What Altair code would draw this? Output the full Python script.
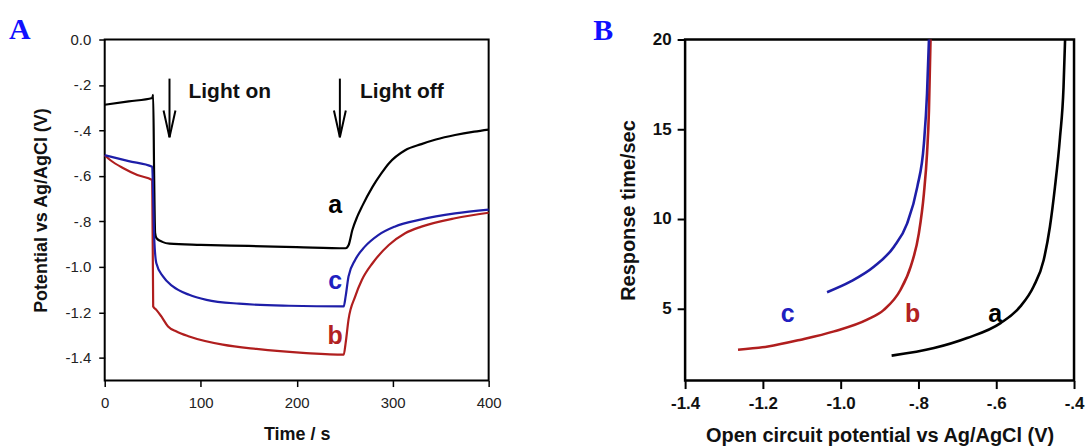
import altair as alt
import pandas as pd

# ---------------- Panel A data (Time / s vs Potential) ----------------
a_t = [0, 25, 49.5, 50.5, 51.5, 52.5, 54, 60, 67.5, 100, 150, 200, 251, 254, 258, 263, 268, 279, 288, 296, 313, 330, 345, 365, 385, 400]
a_v = [-0.287, -0.272, -0.257, -0.243, -0.60, -0.85, -0.874, -0.89, -0.898, -0.903, -0.908, -0.913, -0.918, -0.905, -0.838, -0.78, -0.735, -0.648, -0.59, -0.545, -0.487, -0.46, -0.44, -0.42, -0.405, -0.396]

c_t = [0, 25, 49.5, 50.5, 51.5, 53.8, 60.7, 71, 88, 106, 140, 192, 249, 251, 254, 261, 271, 285, 302, 330, 365, 400]
c_v = [-0.509, -0.535, -0.56, -0.70, -0.867, -0.984, -1.042, -1.086, -1.123, -1.145, -1.162, -1.171, -1.174, -1.13, -1.042, -0.969, -0.911, -0.86, -0.823, -0.791, -0.765, -0.748]

b_t = [0, 6, 20, 34, 49.5, 50.5, 53.8, 59, 66, 74.8, 88, 123, 158, 210, 249, 251, 254, 261, 268, 279, 296, 313, 330, 365, 400]
b_v = [-0.509, -0.531, -0.567, -0.596, -0.618, -1.174, -1.189, -1.218, -1.262, -1.284, -1.306, -1.342, -1.361, -1.379, -1.386, -1.335, -1.232, -1.13, -1.057, -0.984, -0.904, -0.852, -0.823, -0.786, -0.762]

A_y_ticks = [0.0, -0.2, -0.4, -0.6, -0.8, -1.0, -1.2, -1.4]
A_x_ticks = [0, 100, 200, 300, 400]

A_lbl_text = ["a", "c", "b"]
A_lbl_x = [240, 240, 240]
A_lbl_y = [-0.728, -1.064, -1.306]
A_lbl_col = ["#000000", "#2020c0", "#b22222"]

arrow_x = [67.5, 245]
arrow_top = [-0.172, -0.172]
arrow_tip = [-0.430, -0.430]
arrow_text = ["Light on", "Light off"]
arrow_text_x = [87.3, 266]
arrow_text_y = [-0.231, -0.231]

# ---------------- Panel B data (OCP vs response time) ----------------
Bb_x = [-1.264, -1.187, -1.102, -1.017, -0.932, -0.889, -0.846, -0.82, -0.799, -0.786, -0.778, -0.773, -0.769]
Bb_y = [2.72, 2.9, 3.28, 3.74, 4.39, 4.94, 6.06, 7.35, 9.2, 11.42, 13.64, 16.06, 20.0]

Bc_x = [-1.035, -0.974, -0.914, -0.863, -0.829, -0.803, -0.786, -0.778, -0.773]
Bc_y = [5.92, 6.52, 7.35, 8.46, 9.76, 11.79, 14.2, 16.98, 20.0]

Ba_x = [-0.869, -0.76, -0.675, -0.589, -0.538, -0.504, -0.478, -0.462, -0.449, -0.436, -0.427, -0.423]
Ba_y = [2.39, 2.81, 3.37, 4.2, 5.13, 6.24, 7.72, 9.57, 11.79, 14.57, 17.35, 20.0]

B_x_ticks = [-1.4, -1.2, -1.0, -0.8, -0.6, -0.4]
B_y_ticks = [5, 10, 15, 20]

B_lbl_text = ["c", "b", "a"]
B_lbl_x = [-1.136, -0.815, -0.603]
B_lbl_y = [4.7, 4.7, 4.7]
B_lbl_col = ["#2020c0", "#b22222", "#000000"]

series_colors = {"a": "#000000", "b": "#b01e1e", "c": "#1e1ea8"}

FONT = "Liberation Sans"
label_expr = "replace(replace(format(datum.value, '.1f'), '\u22120.', '-.'), '\u2212', '-')"


def long_df(pairs):
    rows = []
    for name, xs, ys in pairs:
        for i, (x, y) in enumerate(zip(xs, ys)):
            rows.append({"series": name, "x": x, "y": y, "i": i})
    return pd.DataFrame(rows)


dfA = long_df([("a", a_t, a_v), ("b", b_t, b_v), ("c", c_t, c_v)])
dfB = long_df([("a", Ba_x, Ba_y), ("b", Bb_x, Bb_y), ("c", Bc_x, Bc_y)])

colscale = alt.Scale(domain=list(series_colors.keys()), range=list(series_colors.values()))

# ---------- Panel A ----------
xA = alt.X("x:Q", scale=alt.Scale(domain=[0, 400], nice=False),
           axis=alt.Axis(values=A_x_ticks, title="Time / s", grid=False, domain=False,
                         tickSize=6, tickWidth=1.5, tickColor="black",
                         labelFont=FONT, labelFontSize=15, labelColor="#222", labelPadding=9,
                         titleFont=FONT, titleFontSize=18, titleFontWeight="bold", titleColor="#111",
                         titlePadding=14, minExtent=31, maxExtent=31, labelFlush=False))
yA = alt.Y("y:Q", scale=alt.Scale(domain=[-1.5, 0], nice=False),
           axis=alt.Axis(values=A_y_ticks, labelExpr=label_expr, title="Potential vs Ag/AgCl (V)",
                         grid=False, domain=False, tickSize=6, tickWidth=1.5, tickColor="black",
                         labelFont=FONT, labelFontSize=15, labelColor="#222", labelPadding=8,
                         titleFont=FONT, titleFontSize=18, titleFontWeight="bold", titleColor="#111",
                         titlePadding=14, minExtent=40, maxExtent=40))

linesA = alt.Chart(dfA).mark_line(strokeWidth=2.2, interpolate="monotone").encode(
    x=xA, y=yA,
    color=alt.Color("series:N", scale=colscale, legend=None),
    order="i:Q", detail="series:N")

lblA = alt.Chart(pd.DataFrame({"t": A_lbl_text, "x": A_lbl_x, "y": A_lbl_y, "c": A_lbl_col})).mark_text(
    font=FONT, fontSize=25, fontWeight="bold", align="center", baseline="middle").encode(
    x="x:Q", y="y:Q", text="t:N", color=alt.Color("c:N", scale=None))

arr_df = pd.DataFrame({"x": arrow_x, "top": arrow_top, "tip": arrow_tip})
shaft = alt.Chart(arr_df).mark_rule(strokeWidth=2, color="black").encode(x="x:Q", y="top:Q", y2="tip:Q")

head_rows = []
for k, (ax, tip) in enumerate(zip(arrow_x, arrow_tip)):
    head_rows += [{"k": k, "i": 0, "x": ax - 6.2, "y": tip + 0.118},
                  {"k": k, "i": 1, "x": ax, "y": tip},
                  {"k": k, "i": 2, "x": ax + 6.2, "y": tip + 0.118}]
heads = alt.Chart(pd.DataFrame(head_rows)).mark_line(strokeWidth=2, color="black").encode(
    x="x:Q", y="y:Q", detail="k:N", order="i:Q")

arrTxt = alt.Chart(pd.DataFrame({"t": arrow_text, "x": arrow_text_x, "y": arrow_text_y})).mark_text(
    font=FONT, fontSize=21, fontWeight="bold", align="left", baseline="middle", color="#111").encode(
    x="x:Q", y="y:Q", text="t:N")

tagA = alt.Chart(pd.DataFrame({"t": ["A"]})).mark_text(
    font="Liberation Serif", fontSize=30, fontWeight="bold", color="#1010ff",
    align="left", baseline="alphabetic").encode(
    x=alt.value(-96), y=alt.value(-1), text="t:N")

panelA = alt.layer(linesA, shaft, heads, arrTxt, lblA, tagA).properties(
    width=385, height=342,
    view=alt.ViewBackground(stroke="black", strokeWidth=2))

# ---------- Panel B ----------
xB = alt.X("x:Q", scale=alt.Scale(domain=[-1.4, -0.4], nice=False),
           axis=alt.Axis(values=B_x_ticks, labelExpr=label_expr,
                         title="Open circuit potential vs Ag/AgCl (V)", grid=False, domain=False,
                         tickSize=8, tickWidth=2, tickColor="black",
                         labelFont=FONT, labelFontSize=17, labelFontWeight="bold", labelColor="#111",
                         labelPadding=7, titleFont=FONT, titleFontSize=20, titleFontWeight="bold",
                         titleColor="#111", titlePadding=13, minExtent=32, maxExtent=32, labelFlush=False))
yB = alt.Y("y:Q", scale=alt.Scale(domain=[1, 20], nice=False),
           axis=alt.Axis(values=B_y_ticks, title="Response time/sec", grid=False, domain=False,
                         tickSize=8, tickWidth=2, tickColor="black",
                         labelFont=FONT, labelFontSize=17, labelFontWeight="bold", labelColor="#111",
                         labelPadding=6, titleFont=FONT, titleFontSize=20, titleFontWeight="bold",
                         titleColor="#111", titlePadding=14, minExtent=33, maxExtent=33))

linesB = alt.Chart(dfB).mark_line(strokeWidth=2.6, interpolate="monotone").encode(
    x=xB, y=yB,
    color=alt.Color("series:N", scale=colscale, legend=None),
    order="i:Q", detail="series:N")

lblB = alt.Chart(pd.DataFrame({"t": B_lbl_text, "x": B_lbl_x, "y": B_lbl_y, "c": B_lbl_col})).mark_text(
    font=FONT, fontSize=25, fontWeight="bold", align="center", baseline="middle").encode(
    x="x:Q", y="y:Q", text="t:N", color=alt.Color("c:N", scale=None))

tagB = alt.Chart(pd.DataFrame({"t": ["B"]})).mark_text(
    font="Liberation Serif", fontSize=30, fontWeight="bold", color="#1010ff",
    align="left", baseline="alphabetic").encode(
    x=alt.value(-92), y=alt.value(0), text="t:N")

panelB = alt.layer(linesB, lblB, tagB).properties(
    width=390, height=342,
    view=alt.ViewBackground(stroke="black", strokeWidth=2.5))

chart = alt.hconcat(panelA, panelB, spacing=89).properties(
    padding={"left": 8, "top": 13, "right": 0, "bottom": 0},
    background="white")

chart.save("out.html", embed_options={"renderer": "svg", "actions": False})
